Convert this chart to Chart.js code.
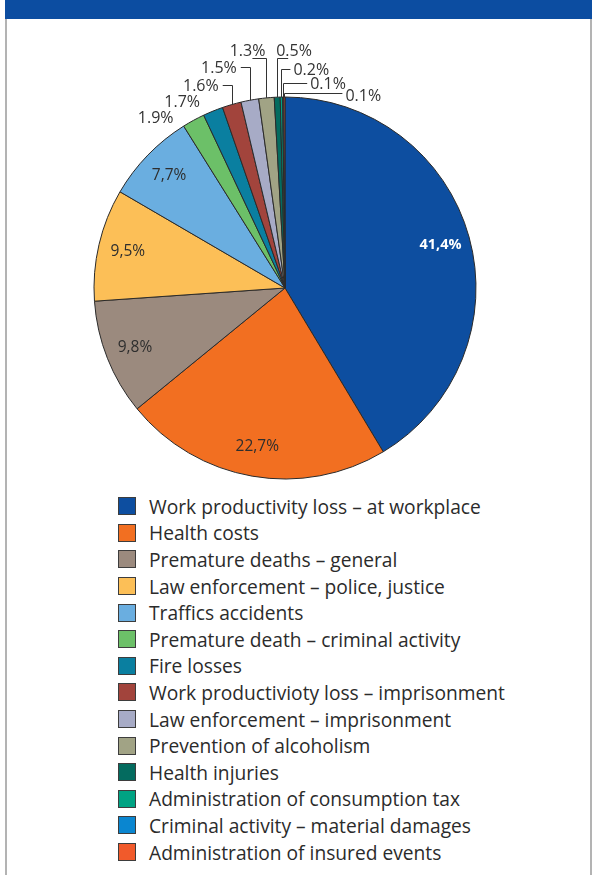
<!DOCTYPE html>
<html>

<head>
    <title>Cost of alcohol</title>
    <script src="https://cdn.jsdelivr.net/npm/chart.js@4.4.1/dist/chart.umd.min.js"></script>
    <style>
        body {
            margin: 0;
            background: #fff;
            font-family: "Open Sans", Arial, sans-serif;
        }

        .header {
            position: absolute;
            left: 5px;
            top: 0;
            width: 587px;
            height: 19px;
            background: #0c4da1;
        }

        .frame {
            position: absolute;
            left: 5px;
            top: 19px;
            width: 583px;
            height: 870px;
            border-left: 2px solid #b3b3b3;
            border-right: 2px solid #b3b3b3;
        }

        #chart-box {
            position: absolute;
            left: 7px;
            top: 19px;
            width: 583px;
            height: 470px;
        }

        #legend {
            position: absolute;
            left: 118px;
            top: 493px;
            margin: 0;
            padding: 0;
            list-style: none;
        }

        #legend li {
            display: flex;
            align-items: center;
            height: 26.6px;
            font-size: 19.2px;
            color: #2b2b2b;
            white-space: nowrap;
        }

        #legend .box {
            width: 16px;
            height: 16px;
            border: 1.5px solid #3d3d3d;
            margin-right: 13px;
        }
    </style>
</head>

<body>
    <div class="header"></div>
    <div class="frame"></div>
    <div id="chart-box"><canvas id="pie"></canvas></div>
    <ul id="legend"></ul>
    <script>
        // Data
        var categories = [
            "Work productivity loss \u2013 at workplace",
            "Health costs",
            "Premature deaths \u2013 general",
            "Law enforcement \u2013 police, justice",
            "Traffics accidents",
            "Premature death \u2013 criminal activity",
            "Fire losses",
            "Work productivioty loss \u2013 imprisonment",
            "Law enforcement \u2013 imprisonment",
            "Prevention of alcoholism",
            "Health injuries",
            "Administration of consumption tax",
            "Criminal activity \u2013 material damages",
            "Administration of insured events"
        ];
        var shares = [41.4, 22.7, 9.8, 9.5, 7.7, 1.9, 1.7, 1.6, 1.5, 1.3, 0.5, 0.2, 0.1, 0.1];
        var colors = [
            "#0d4ea0", "#f26f21", "#9b8a7e", "#fcbf57", "#6aaee0", "#6cc068", "#0a7fa0",
            "#a2443c", "#a7abc6", "#a1a385", "#046b5f", "#00a383", "#0a86d0", "#f15a2b"
        ];

        // Labels: big slices inside (comma decimal), the rest outside with leader lines
        var insideCount = 5;
        // per-label offsets for the two free outside labels (from slice edge)
        var freeOffsets = { 5: [-20, -2], 6: [-13, -9] };
        // leader lines: row y (canvas px), horizontal length (negative = to the left), text above line?
        var leaders = {
            7: [66, -9, false],
            8: [48, -9, false],
            9: [39, -14, true],
            10: [39, 11, true],
            11: [50, 9, false],
            12: [64, 24, false],
            13: [74, 58, false]
        };

        var sliceLabels = {
            id: 'sliceLabels',
            afterDatasetsDraw: function(chart) {
                var ctx = chart.ctx;
                var meta = chart.getDatasetMeta(0);
                ctx.save();
                meta.data.forEach(function(arc, i) {
                    var p = arc.getProps(['x', 'y', 'startAngle', 'endAngle', 'outerRadius'], true);
                    var mid = (p.startAngle + p.endAngle) / 2;
                    var cos = Math.cos(mid),
                        sin = Math.sin(mid);
                    var v = shares[i];
                    if (i < insideCount) {
                        var r = p.outerRadius * 0.845;
                        ctx.font = (i === 0 ? "bold 14.5px" : "15.5px") + " 'Open Sans'";
                        ctx.fillStyle = i === 0 ? "#ffffff" : "#2e2e2e";
                        ctx.textAlign = "center";
                        ctx.textBaseline = "middle";
                        ctx.fillText(v.toFixed(1).replace(".", ",") + "%", p.x + r * cos, p.y + r * sin);
                        return;
                    }
                    var ex = p.x + p.outerRadius * cos,
                        ey = p.y + p.outerRadius * sin;
                    var txt = v.toFixed(1) + "%";
                    ctx.font = "16px 'Open Sans'";
                    ctx.fillStyle = "#333333";
                    if (freeOffsets[i]) {
                        ctx.textAlign = "right";
                        ctx.textBaseline = "middle";
                        ctx.fillText(txt, ex + freeOffsets[i][0], ey + freeOffsets[i][1]);
                        return;
                    }
                    var l = leaders[i];
                    var rowY = l[0],
                        endX = ex + l[1];
                    ctx.strokeStyle = "#333333";
                    ctx.lineWidth = 1;
                    ctx.beginPath();
                    ctx.moveTo(Math.round(ex) + 0.5, ey);
                    ctx.lineTo(Math.round(ex) + 0.5, rowY + 0.5);
                    ctx.lineTo(endX, rowY + 0.5);
                    ctx.stroke();
                    if (l[2]) {
                        ctx.textBaseline = "bottom";
                        ctx.textAlign = l[1] < 0 ? "right" : "left";
                        ctx.fillText(txt, ex - 1, rowY + 1);
                    } else {
                        ctx.textBaseline = "middle";
                        ctx.textAlign = l[1] < 0 ? "right" : "left";
                        ctx.fillText(txt, endX + (l[1] < 0 ? -4 : 3), rowY + (i === 13 ? 3 : 1));
                    }
                });
                ctx.restore();
            }
        };

        // Legend built as html from the chart's own legend items
        var htmlLegend = {
            id: 'htmlLegend',
            afterUpdate: function(chart) {
                var ul = document.getElementById("legend");
                ul.innerHTML = "";
                var items = chart.options.plugins.legend.labels.generateLabels(chart);
                items.forEach(function(item) {
                    var li = document.createElement("li");
                    var box = document.createElement("span");
                    box.className = "box";
                    box.style.background = item.fillStyle;
                    var t = document.createElement("span");
                    t.textContent = item.text;
                    li.appendChild(box);
                    li.appendChild(t);
                    ul.appendChild(li);
                });
            }
        };

        var ctx = document.getElementById("pie").getContext("2d");
        var pieChart = new Chart(ctx, {
            type: 'pie',
            data: {
                labels: categories,
                datasets: [{
                    data: shares,
                    backgroundColor: colors,
                    borderColor: "#2a2a2a",
                    borderWidth: 1
                }]
            },
            options: {
                responsive: true,
                maintainAspectRatio: false,
                animation: false,
                layout: {
                    padding: { left: 86.5, top: 77.5, right: 113.5, bottom: 9.5 }
                },
                plugins: {
                    legend: { display: false },
                    tooltip: { enabled: false }
                }
            },
            plugins: [sliceLabels, htmlLegend]
        });
    </script>
</body>

</html>
